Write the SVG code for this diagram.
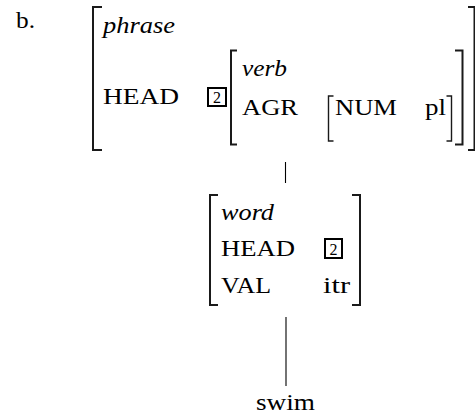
<svg xmlns="http://www.w3.org/2000/svg" width="475" height="417" viewBox="0 0 475 417">
<style>
text{font-family:'Liberation Serif','Times New Roman',serif;font-size:24px;fill:#000}
.it{font-style:italic}
.tag{font-size:16px;text-anchor:middle}
.br{fill:none;stroke:#1a1a1a;stroke-width:2}
.brs{fill:none;stroke:#1a1a1a;stroke-width:1.4}
.box{fill:none;stroke:#000;stroke-width:2}
.edge{stroke:#000;stroke-width:1.1;fill:none}
</style>
<rect width="475" height="417" fill="#fff"/>
<g id="label-b">
<text x="16" y="28" textLength="19" lengthAdjust="spacingAndGlyphs">b.</text>
</g>
<g id="node-phrase">
<path class="br" d="M102,7 H93 V150 H102"/>
<path class="br" d="M468,7 H474.5 V150 H468"/>
<text class="it" x="103" y="33" textLength="72" lengthAdjust="spacingAndGlyphs">phrase</text>
<text x="103" y="104" textLength="76" lengthAdjust="spacingAndGlyphs">HEAD</text>
<rect class="box" x="208" y="88" width="18" height="18"/>
<text class="tag" x="217" y="102.5">2</text>
<path class="br" d="M237,50.5 H231 V144.5 H237"/>
<path class="br" d="M455,50.5 H462.5 V144.5 H455"/>
<text class="it" x="242" y="76" textLength="45" lengthAdjust="spacingAndGlyphs">verb</text>
<text x="242" y="115" textLength="56" lengthAdjust="spacingAndGlyphs">AGR</text>
<path class="brs" d="M333.5,96 H328.5 V141 H333.5"/>
<path class="brs" d="M446.5,96 H451.5 V141 H446.5"/>
<text x="335" y="115" textLength="62" lengthAdjust="spacingAndGlyphs">NUM</text>
<text x="425" y="115" textLength="21" lengthAdjust="spacingAndGlyphs">pl</text>
</g>
<g id="node-word">
<path class="br" d="M218,195 H210 V305 H218"/>
<path class="br" d="M352,195 H360 V305 H352"/>
<text class="it" x="221" y="220" textLength="53" lengthAdjust="spacingAndGlyphs">word</text>
<text x="221" y="256" textLength="74" lengthAdjust="spacingAndGlyphs">HEAD</text>
<rect class="box" x="325" y="239" width="17" height="19"/>
<text class="tag" x="333.5" y="254.5">2</text>
<text x="221" y="293" textLength="50" lengthAdjust="spacingAndGlyphs">VAL</text>
<text x="323" y="293" textLength="27" lengthAdjust="spacingAndGlyphs">itr</text>
</g>
<g id="node-swim">
<text x="256" y="410" textLength="59" lengthAdjust="spacingAndGlyphs">swim</text>
</g>
<g id="connectors">
<line class="edge" x1="285.5" y1="162" x2="285.5" y2="183"/>
<line class="edge" x1="286" y1="317" x2="286" y2="386"/>
</g>
</svg>
